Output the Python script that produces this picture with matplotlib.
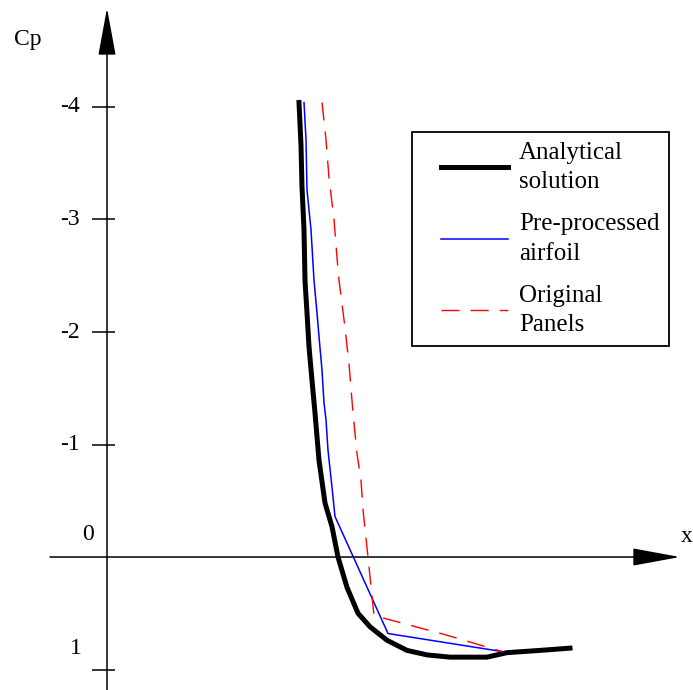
import matplotlib
matplotlib.use("Agg")
import matplotlib.pyplot as plt
from matplotlib.lines import Line2D
from matplotlib.legend_handler import HandlerLine2D

plt.rcParams['font.family'] = ['Liberation Serif', 'DejaVu Serif']

# x position (arbitrary units, no labels on the axis) and pressure coefficient Cp
x_analytical = [1.92, 1.94, 1.95, 1.97, 1.98, 2.00, 2.02, 2.05, 2.08, 2.12, 2.18,
                2.25, 2.31, 2.40, 2.51, 2.63, 2.80, 3.00, 3.20, 3.43, 3.80, 4.00,
                4.33, 4.63]
cp_analytical = [-4.04, -3.66, -3.29, -2.91, -2.46, -2.17, -1.87, -1.57, -1.28, -0.86,
                 -0.48, -0.27, 0.00, 0.27, 0.50, 0.62, 0.74, 0.83, 0.87, 0.89, 0.89,
                 0.85, 0.83, 0.81]

x_preproc = [1.97, 1.99, 2.00, 2.04, 2.07, 2.10, 2.12, 2.15, 2.17, 2.19, 2.21,
             2.25, 2.28, 2.81, 3.95]
cp_preproc = [-4.04, -3.71, -3.26, -2.91, -2.46, -2.17, -1.96, -1.66, -1.37, -1.22,
              -0.95, -0.62, -0.36, 0.68, 0.84]

x_panels = [2.15, 2.19, 2.22, 2.27, 2.30, 2.32, 2.37, 2.42, 2.46, 2.50, 2.54, 2.56,
            2.61, 2.67, 3.38, 3.95]
cp_panels = [-4.04, -3.71, -3.37, -3.00, -2.66, -2.46, -2.11, -1.72, -1.28, -0.92,
             -0.68, -0.42, 0.00, 0.52, 0.69, 0.84]

yticks = [-4, -3, -2, -1, 1]
ytick_labels = ['-4', '-3', '-2', '-1', '1']

fig = plt.figure(figsize=(6.93, 6.90), dpi=100)
ax = fig.add_axes([0, 0, 1, 1])
ax.set_xlim(-1.07, 5.86)
ax.set_ylim(1.182, -4.951)
ax.axis('off')

# axes with arrow heads
axis_kw = dict(arrowstyle='-|>,head_length=3.0,head_width=0.55', color='black',
               lw=1.1, shrinkA=0, shrinkB=0, mutation_scale=10)
ax.annotate('', xy=(0, -4.88), xytext=(0, 1.2), arrowprops=axis_kw)
ax.annotate('', xy=(5.73, 0), xytext=(-0.57, 0), arrowprops=axis_kw)

# tick marks and labels
ax.hlines(yticks, -0.15, 0.08, color='black', lw=1.1)
for v, lab in zip(yticks, ytick_labels):
    if v == 1:
        ax.text(-0.25, 0.81, lab, ha='right', va='center', fontsize=17)
    else:
        ax.text(-0.27, v, lab, ha='right', va='center', fontsize=17)
ax.text(-0.19, -0.2, '0', ha='center', va='center', fontsize=17)
ax.text(-0.79, -4.6, 'Cp', ha='center', va='center', fontsize=17)
ax.text(5.86, -0.18, 'x', ha='right', va='center', fontsize=17)

ax.plot(x_analytical, cp_analytical, color='black', lw=3.6,
        label='Analytical\nsolution')
ax.plot(x_preproc, cp_preproc, color='blue', lw=1.1,
        label='Pre-processed\nairfoil')
ax.plot(x_panels, cp_panels, color='red', lw=1.0, dashes=(13, 8),
        label='Original\nPanels')

leg = ax.legend(loc='upper left', bbox_to_anchor=(0.5945, 0.8087),
                borderaxespad=0, fontsize=18, fancybox=False, framealpha=1,
                edgecolor='black', handlelength=3.44, handletextpad=0.44,
                borderpad=0.4, labelspacing=0.8,
                handler_map={Line2D: HandlerLine2D(xpad=0.76)})
leg.get_frame().set_linewidth(1.3)
for t in leg.get_texts():
    t.set_linespacing(1.43)

fig.savefig('out.png', dpi=100)
